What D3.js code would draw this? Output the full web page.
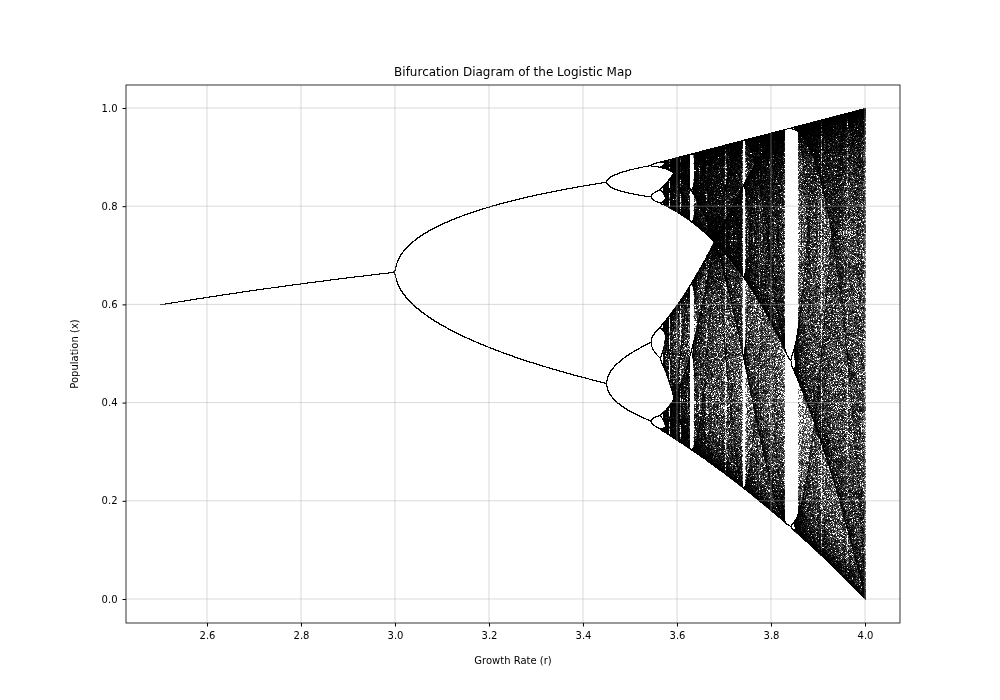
<!DOCTYPE html>
<html><head><meta charset="utf-8">
<script src="https://cdn.jsdelivr.net/npm/d3@7"></script>
<style>body{margin:0;background:#fff}#wrap{position:relative;width:1000px;height:700px}canvas,svg{position:absolute;left:0;top:0}</style>
</head><body><div id="wrap"><canvas id="cv" width="1000" height="700"></canvas><svg id="sv" width="1000" height="700"></svg></div>
<script>
// Model parameters (the diagram is the logistic map x -> r*x*(1-x))
const rRange = [2.5, 4.0];
const rSteps = [10000];
const warmup = [1000];
const keepIterations = [100];
const x0 = [0.5];
const xTicks = [2.6, 2.8, 3.0, 3.2, 3.4, 3.6, 3.8, 4.0];
const yTicks = [0.0, 0.2, 0.4, 0.6, 0.8, 1.0];
const title = "Bifurcation Diagram of the Logistic Map";
const xLabel = "Growth Rate (r)";
const yLabel = "Population (x)";

const L=126,R=900,T=85,B=623;
const x=d3.scaleLinear().domain([2.4277,4.0745]).range([L,R]);
const y=d3.scaleLinear().domain([-0.0489,1.0468]).range([B,T]);

const svg=d3.select("#sv");
const font="DejaVu Sans, sans-serif";
// grid
svg.append("g").selectAll("line").data(xTicks).join("line")
 .attr("x1",d=>x(d)).attr("x2",d=>x(d)).attr("y1",T).attr("y2",B).attr("stroke","#b0b0b0").attr("stroke-opacity",0.6).attr("stroke-width",0.8);
svg.append("g").selectAll("line").data(yTicks).join("line")
 .attr("y1",d=>y(d)).attr("y2",d=>y(d)).attr("x1",L).attr("x2",R).attr("stroke","#b0b0b0").attr("stroke-opacity",0.6).attr("stroke-width",0.8);

// points on canvas
const ctx=document.getElementById("cv").getContext("2d");
ctx.fillStyle="rgba(0,0,0,0.55)";
const n=rSteps[0];
for(let i=0;i<n;i++){
  const r=rRange[0]+(rRange[1]-rRange[0])*i/(n-1);
  let v=x0[0];
  for(let k=0;k<warmup[0];k++) v=r*v*(1-v);
  const px=x(r);
  for(let k=0;k<keepIterations[0];k++){
    v=r*v*(1-v);
    ctx.fillRect(Math.round(px),Math.round(y(v)),1,1);
  }
}

// axes
const xa=svg.append("g").attr("transform",`translate(0,${B})`).call(d3.axisBottom(x).tickValues(xTicks).tickFormat(d3.format(".1f")).tickSizeOuter(0).tickSize(3.5).tickPadding(5));
const ya=svg.append("g").attr("transform",`translate(${L},0)`).call(d3.axisLeft(y).tickValues(yTicks).tickFormat(d3.format(".1f")).tickSizeOuter(0).tickSize(3.5).tickPadding(5));
[xa,ya].forEach(a=>{a.selectAll("text").attr("font-family",font).attr("font-size","10px").attr("fill","#000");a.select(".domain").remove();a.selectAll("line").attr("stroke","#000");});
svg.append("rect").attr("x",L).attr("y",T).attr("width",R-L).attr("height",B-T).attr("fill","none").attr("stroke","#000").attr("stroke-width",0.8);
svg.append("text").attr("x",(L+R)/2).attr("y",T-9).attr("text-anchor","middle").attr("font-family",font).attr("font-size","12px").text(title);
svg.append("text").attr("x",(L+R)/2).attr("y",B+41).attr("text-anchor","middle").attr("font-family",font).attr("font-size","10px").text(xLabel);
svg.append("text").attr("transform",`translate(${L-48},${(T+B)/2}) rotate(-90)`).attr("text-anchor","middle").attr("font-family",font).attr("font-size","10px").text(yLabel);
</script></body></html>
